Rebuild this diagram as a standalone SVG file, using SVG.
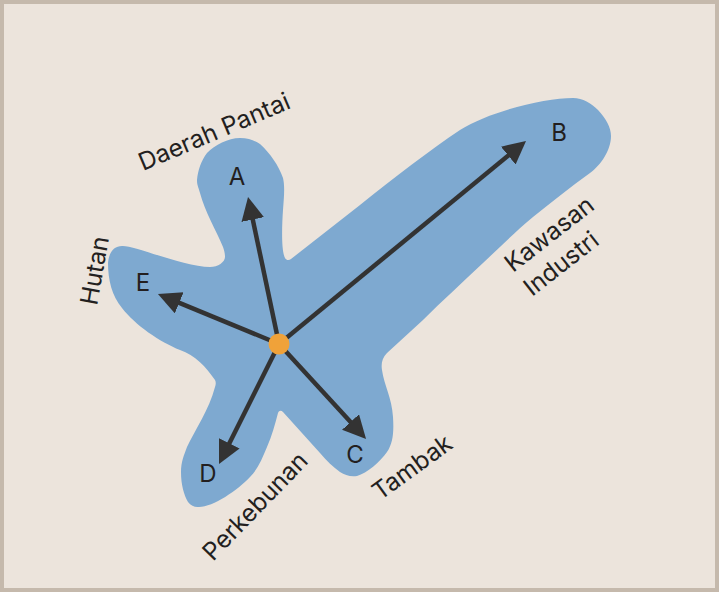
<svg xmlns="http://www.w3.org/2000/svg" width="719" height="592" viewBox="0 0 719 592">
<defs>
<style>
.t{font-family:"Inter","Liberation Sans",sans-serif;font-size:24.5px;fill:#231f20}
.n{font-family:"Inter","Liberation Sans",sans-serif;font-size:24px;fill:#231f20;text-anchor:middle}
.l{stroke:#333333;stroke-width:4.500;fill:none;marker-end:url(#a)}
</style>
<marker id="a" markerUnits="userSpaceOnUse" markerWidth="24" markerHeight="24" refX="13" refY="11.5" orient="auto"><path d="M0,0L23,11.5L0,23z" fill="#333333"/></marker>
</defs>
<rect x="2" y="2" width="715" height="588" fill="#ece4dc" stroke="#c5b9ac" stroke-width="4"/>
<g id="area">
<path fill="#7ea9d0" d="M240,138C249,138 255,141 260,144C270,153 279,166 283,178C285,186 284,197 283,210C282,225 281,250 285,258C286.500,260.500 289,260.500 291,259L360,205C395,177 430,150 460,130C490,111 545,98 573,98C583,98 591,103 598,110C606,119 611,127 611,136C611,150 601,165 590,173C570,187 552,202 533,217C515,232 500,247 483,263C463,282 443,300 423,320L387,353C382,358 381,364 382,370C384,385 392,398 393,417C394,432 393,443 387,452C380,462 367,473 357,476C350,477 345,475 340,472C333,467 327,461 320,453L283,412C281,410 279,410.500 278,413C275,424 272,436 267,447C262,459 258,469 250,477C238,490 213,507 199,507C195,507.500 191,506 188,502C184,495 181,485 181,472C181,462 184,455 187,447C195,430 209,410 215,387C216,384 216,382 215,380C206,367 195,355 180,350C160,342 135,325 122,308C112,296 108,280 108,263C109,252 114,246 122,246C133,245 185,267 210,267C218,267 225,262 225,257C225,253 224,250 223,247C216,230 205,212 200,193C198,186 197,185 197,180C198,170 201,161 207,153C215,145 228,138 240,138Z"/>
</g>
<g id="connectors">
<path class="l" d="M279,344L250.100,206.800"/>
<path class="l" d="M279,344L518.300,147.300"/>
<path class="l" d="M279,344L359.300,431.600"/>
<path class="l" d="M279,344L223.500,455"/>
<path class="l" d="M279,344L167.200,297.800"/>
</g>
<g id="hub"><circle cx="279" cy="344" r="10.500" fill="#f0a239"/></g>
<g id="node-a"><text class="n" x="237" y="185">A</text></g>
<g id="node-b"><text class="n" x="559" y="141">B</text></g>
<g id="node-c"><text class="n" x="355" y="463">C</text></g>
<g id="node-d"><text class="n" x="208" y="482">D</text></g>
<g id="node-e"><text class="n" x="143" y="291">E</text></g>
<g id="label-pantai"><text class="t" transform="translate(143,171) rotate(-23)">Daerah Pantai</text></g>
<g id="label-hutan"><text class="t" transform="translate(97,306) rotate(-80)">Hutan</text></g>
<g id="label-kebun"><text class="t" transform="translate(213,562) rotate(-46)">Perkebunan</text></g>
<g id="label-tambak"><text class="t" transform="translate(380,501) rotate(-36)">Tambak</text></g>
<g id="label-industri"><text class="t" transform="translate(513,273) rotate(-38)">Kawasan</text><text class="t" transform="translate(532,297) rotate(-38)">Industri</text></g>
</svg>
